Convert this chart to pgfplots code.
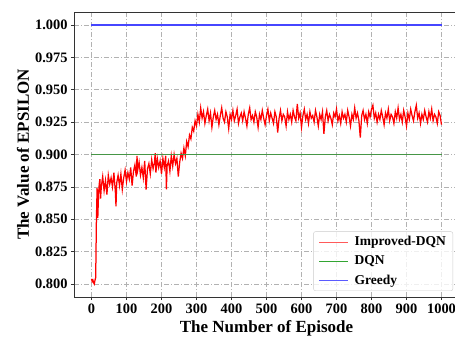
\documentclass[border=0pt]{standalone}
\usepackage{fontspec}
\setmainfont{Liberation Serif}
\usepackage{pgfplots}
\pgfplotsset{compat=1.18,
  legend image code/.code={\draw[#1] (0pt,0pt) -- (29pt,0pt);}}
\definecolor{impred}{RGB}{255,0,0}
\definecolor{legred}{RGB}{255,90,90}
\definecolor{dqngreen}{RGB}{70,150,70}
\definecolor{leggreen}{RGB}{50,165,50}
\definecolor{greedyblue}{RGB}{70,70,255}
\definecolor{legblue}{RGB}{90,90,255}
\begin{document}
\begin{tikzpicture}
\begin{axis}[
  scale only axis,
  width=385pt, height=285pt,
  xmin=-50, xmax=1050, ymin=0.79, ymax=1.01,
  xtick={0,100,...,1000},
  ytick={0.800,0.825,0.850,0.875,0.900,0.925,0.950,0.975,1.000},
  xtick pos=bottom, ytick pos=left,
  tick align=outside, major tick length=3pt,
  every tick/.style={black!80, line width=0.7pt},
  axis line style={black!80, line width=0.8pt},
  /pgf/number format/assume math mode=true,
  ticklabel style={font=\fontsize{14.4}{16}\selectfont\bfseries},
  yticklabel style={/pgf/number format/.cd, fixed, fixed zerofill, precision=3},
  xticklabel style={/pgf/number format/.cd, 1000 sep={}},
  grid=major,
  major grid style={black!30, line width=0.6pt, dash pattern=on 5pt off 2pt on 1pt off 2pt},
  xlabel={The Number of Episode},
  ylabel={The Value of EPSILON},
  label style={font=\fontsize{17}{20}\selectfont\bfseries},
  xlabel style={at={(axis description cs:0.5,-0.109)}, anchor=center},
  ylabel style={at={(axis description cs:-0.1325,0.5)}, anchor=center},
  legend style={at={(1,0)}, anchor=south east, xshift=-6pt, yshift=6pt,
    draw=black!20, rounded corners=2pt, fill=white, fill opacity=0.8, text opacity=1,
    font=\fontsize{13.5}{16}\selectfont\bfseries, row sep=4.5pt, inner xsep=5pt, inner ysep=3pt,
    /tikz/every odd column/.append style={column sep=4pt}},
  legend cell align=left,
]
\addlegendimage{draw=legred, line width=1pt}
\addlegendentry{Improved-DQN}
\addlegendimage{draw=leggreen, line width=1pt}
\addlegendentry{DQN}
\addlegendimage{draw=legblue, line width=1pt}
\addlegendentry{Greedy}
\addplot[draw=impred, line width=1.25pt, forget plot] coordinates {
(0,0.804) (2,0.802) (4,0.803) (6,0.801) (8,0.800) (10,0.803) (12,0.805)
(14,0.849) (16,0.874) (18,0.851) (20,0.868) (22,0.877) (24,0.881) (26,0.866)
(28,0.875) (32,0.883) (36,0.872) (40,0.880) (44,0.869) (48,0.884) (52,0.877)
(56,0.882) (60,0.875) (64,0.886) (68,0.872) (70,0.860) (72,0.878) (76,0.884)
(80,0.876) (84,0.885) (88,0.873) (92,0.882) (96,0.888) (100,0.879) (104,0.886)
(108,0.881) (112,0.890) (116,0.876) (120,0.887) (124,0.892) (128,0.883)
(130,0.899) (132,0.888) (136,0.894) (140,0.884) (144,0.890) (148,0.882)
(152,0.895) (156,0.873) (160,0.889) (164,0.893) (168,0.885) (172,0.896)
(176,0.889) (180,0.894) (182,0.901) (184,0.886) (188,0.897) (192,0.890)
(196,0.895) (200,0.885) (204,0.897) (208,0.890) (212,0.899) (214,0.873)
(216,0.891) (220,0.895) (224,0.887) (228,0.899) (232,0.891) (236,0.900)
(240,0.893) (244,0.897) (248,0.883) (252,0.894) (256,0.901) (260,0.897)
(264,0.905) (268,0.899) (272,0.910) (276,0.906) (280,0.915) (284,0.912)
(288,0.921) (292,0.918) (296,0.926) (300,0.922) (304,0.931) (308,0.925)
(312,0.936) (316,0.928) (320,0.933) (324,0.924) (328,0.930) (332,0.935)
(336,0.926) (340,0.932) (344,0.921) (348,0.929) (352,0.934) (356,0.927)
(360,0.931) (364,0.923) (368,0.930) (372,0.936) (376,0.928) (380,0.925)
(384,0.933) (388,0.929) (392,0.920) (396,0.931) (400,0.927) (404,0.934)
(408,0.926) (412,0.930) (416,0.935) (420,0.924) (424,0.929) (428,0.932)
(432,0.926) (436,0.933) (440,0.928) (444,0.922) (448,0.931) (452,0.936)
(456,0.927) (460,0.930) (464,0.925) (468,0.933) (472,0.929) (476,0.921)
(480,0.931) (484,0.927) (488,0.934) (492,0.928) (496,0.923) (500,0.930)
(504,0.935) (508,0.926) (512,0.932) (516,0.928) (520,0.924) (524,0.933)
(528,0.929) (532,0.917) (536,0.928) (540,0.934) (544,0.926) (548,0.931)
(552,0.929) (556,0.922) (560,0.933) (564,0.927) (568,0.931) (572,0.925)
(576,0.934) (580,0.929) (584,0.926) (588,0.939) (592,0.928) (596,0.932)
(600,0.921) (604,0.930) (608,0.935) (612,0.927) (616,0.931) (620,0.924)
(624,0.933) (628,0.928) (632,0.930) (636,0.925) (640,0.934) (644,0.929)
(648,0.922) (652,0.931) (656,0.927) (660,0.933) (664,0.916) (668,0.929)
(672,0.934) (676,0.926) (680,0.931) (684,0.928) (688,0.923) (692,0.932)
(696,0.929) (700,0.935) (704,0.926) (708,0.930) (712,0.924) (716,0.933)
(720,0.928) (724,0.931) (728,0.925) (732,0.934) (736,0.929) (740,0.922)
(744,0.931) (748,0.927) (752,0.936) (756,0.928) (760,0.932) (764,0.926)
(768,0.913) (772,0.930) (776,0.934) (780,0.927) (784,0.931) (788,0.924)
(792,0.933) (796,0.929) (800,0.935) (804,0.938) (808,0.928) (812,0.932)
(816,0.925) (820,0.931) (824,0.927) (828,0.934) (832,0.929) (836,0.923)
(840,0.932) (844,0.928) (848,0.935) (852,0.926) (856,0.931) (860,0.929)
(864,0.924) (868,0.933) (872,0.928) (876,0.936) (880,0.927) (884,0.931)
(888,0.925) (892,0.934) (896,0.929) (900,0.922) (904,0.932) (908,0.927)
(912,0.935) (916,0.930) (920,0.926) (924,0.933) (928,0.938) (932,0.928)
(936,0.932) (940,0.924) (944,0.931) (948,0.927) (952,0.934) (956,0.929)
(960,0.925) (964,0.933) (968,0.928) (972,0.935) (976,0.926) (980,0.931)
(984,0.929) (988,0.924) (992,0.933) (996,0.930) (1000,0.923)
};
\addplot[draw=dqngreen, line width=1.1pt, forget plot] coordinates {(0,0.9) (1000,0.9)};
\addplot[draw=greedyblue, line width=1.1pt, forget plot] coordinates {(0,1.0) (1000,1.0)};
\end{axis}
\pgfresetboundingbox
\useasboundingbox ([xshift=-74pt,yshift=-40pt]current axis.south west) rectangle ([xshift=-4pt,yshift=12pt]current axis.north east);
\end{tikzpicture}
\end{document}
